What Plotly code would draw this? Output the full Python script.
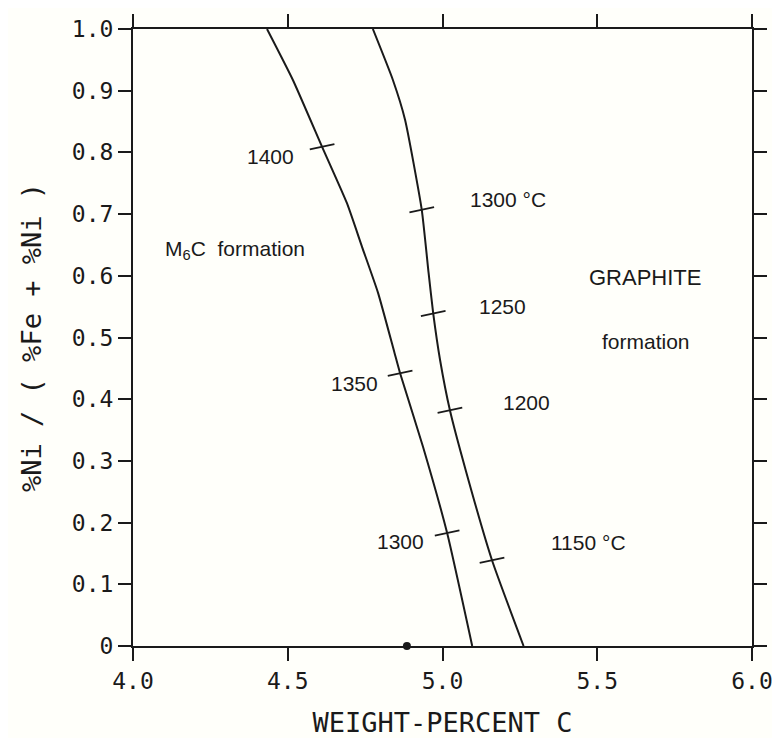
import plotly.graph_objects as go

# ---- data ----
# left boundary curve (wt-% C vs Ni fraction)
left_c = [4.433, 4.517, 4.611, 4.691, 4.740, 4.792, 4.845, 4.863, 4.937, 5.015, 5.096]
left_ni = [1.0, 0.917, 0.809, 0.718, 0.647, 0.572, 0.475, 0.442, 0.323, 0.183, 0.0]
# right boundary curve
right_c = [4.775, 4.840, 4.879, 4.933, 4.955, 4.970, 4.992, 5.024, 5.075, 5.160, 5.262]
right_ni = [1.0, 0.917, 0.853, 0.707, 0.605, 0.539, 0.464, 0.382, 0.285, 0.139, 0.0]

# temperature marks on the curves
left_mark_c = [4.611, 4.863, 5.015]
left_mark_ni = [0.809, 0.442, 0.183]
right_mark_c = [4.933, 4.970, 5.024, 5.160]
right_mark_ni = [0.707, 0.539, 0.382, 0.139]

# point on the bottom axis
dot_c = [4.885]
dot_ni = [0.0]

# text labels
label_texts = ["1400", "1350", "1300", "1300 °C", "1250", "1200", "1150 °C",
               "GRAPHITE", "formation"]
label_c = [4.443, 4.717, 4.863, 5.212, 5.195, 5.270, 5.473, 5.654, 5.658]
label_ni = [0.794, 0.426, 0.169, 0.724, 0.551, 0.395, 0.167, 0.598, 0.493]
m6c_text = "M<sub>6</sub>C  formation"
m6c_pos = (4.097, 0.642)

x_tickvals = [4.0, 4.5, 5.0, 5.5, 6.0]
x_ticktext = ["4.0", "4.5", "5.0", "5.5", "6.0"]
y_tickvals = [0, 0.1, 0.2, 0.3, 0.4, 0.5, 0.6, 0.7, 0.8, 0.9, 1.0]
y_ticktext = ["0", "0.1", "0.2", "0.3", "0.4", "0.5", "0.6", "0.7", "0.8", "0.9", "1.0"]

x_title = "WEIGHT-PERCENT C"
y_title = "%Ni / ( %Fe + %Ni )"

# ---- figure ----
BG = "#fffffa"
INK = "#1a1a1a"
MONO = "DejaVu Sans Mono"
SANS = "Liberation Sans"

fig = go.Figure()
for xs, ys in [(left_c, left_ni), (right_c, right_ni)]:
    fig.add_trace(go.Scatter(x=xs, y=ys, mode="lines",
                             line=dict(color=INK, width=2, shape="spline", smoothing=0.5),
                             showlegend=False, hoverinfo="skip"))
for xs, ys in [(left_mark_c, left_mark_ni), (right_mark_c, right_mark_ni)]:
    fig.add_trace(go.Scatter(x=xs, y=ys, mode="markers",
                             marker=dict(symbol="line-ew", size=18, angle=-12,
                                         line=dict(color=INK, width=1.8)),
                             showlegend=False, hoverinfo="skip"))
fig.add_trace(go.Scatter(x=dot_c, y=dot_ni, mode="markers", cliponaxis=False,
                         marker=dict(symbol="circle", size=8, color=INK),
                         showlegend=False, hoverinfo="skip"))

for t, xv, yv in zip(label_texts, label_c, label_ni):
    fig.add_annotation(x=xv, y=yv, text=t, showarrow=False,
                       font=dict(family=SANS, size=22 if t == "GRAPHITE" else 21, color=INK))
fig.add_annotation(x=m6c_pos[0], y=m6c_pos[1], text=m6c_text, showarrow=False,
                   xanchor="left", font=dict(family=SANS, size=21, color=INK))

axis_common = dict(showline=True, linewidth=2, linecolor=INK, mirror="allticks",
                   ticks="outside", ticklen=13, tickwidth=2, tickcolor=INK,
                   showgrid=False, zeroline=False, automargin=False,
                   tickfont=dict(family=MONO, size=23, color=INK))

fig.update_xaxes(range=[4.0, 6.0], tickvals=x_tickvals, ticktext=x_ticktext,
                 title=dict(text=x_title, font=dict(family=MONO, size=27, color=INK), standoff=22),
                 **axis_common)
fig.update_yaxes(range=[0, 1.0], tickvals=y_tickvals, ticktext=y_ticktext,
                 title=dict(text=y_title, font=dict(family=MONO, size=27, color=INK), standoff=22),
                 **axis_common)

# page body adds an 8px offset, so the figure is sized to fit inside the window
fig.update_layout(width=772, height=730,
                  margin=dict(l=125, r=28, t=21, b=92),
                  paper_bgcolor=BG, plot_bgcolor=BG)

fig.write_html("out.html")
